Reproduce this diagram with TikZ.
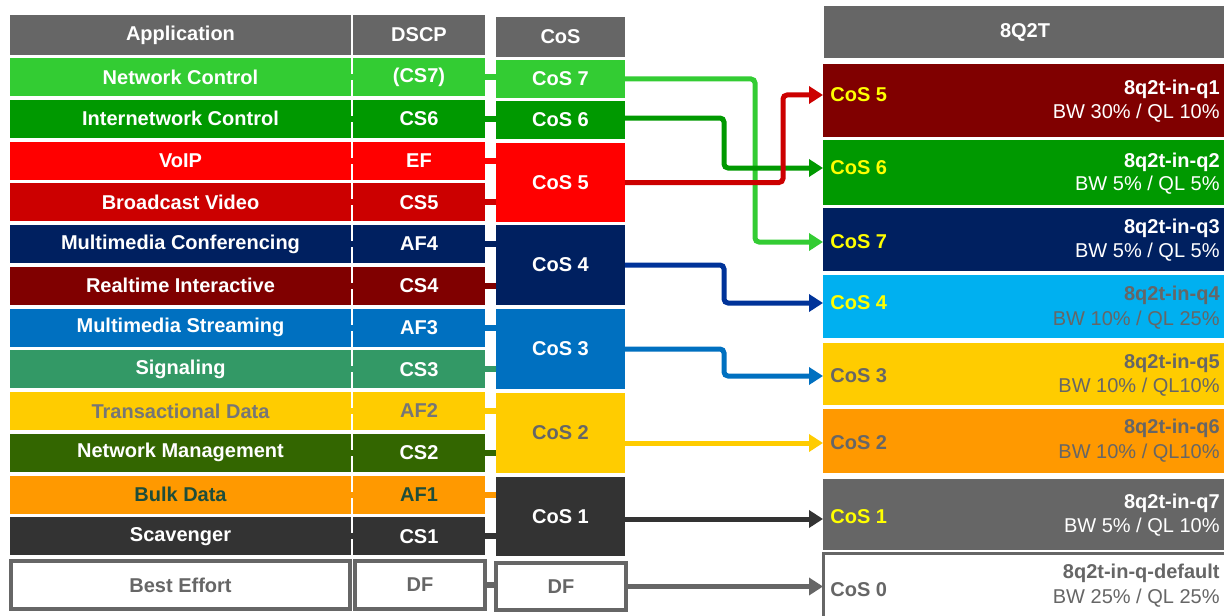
\documentclass[tikz,border=0pt]{standalone}
\usepackage{fontspec}
\setmainfont{Liberation Sans}
\usetikzlibrary{arrows.meta}
\definecolor{hdr}{HTML}{666666}
\definecolor{cNC}{HTML}{33CC33}
\definecolor{cIC}{HTML}{009900}
\definecolor{cVO}{HTML}{FF0000}
\definecolor{cBV}{HTML}{CC0000}
\definecolor{cMC}{HTML}{002060}
\definecolor{cRI}{HTML}{800000}
\definecolor{cMS}{HTML}{0070C0}
\definecolor{cSG}{HTML}{339966}
\definecolor{cTD}{HTML}{FFCC00}
\definecolor{cNM}{HTML}{336600}
\definecolor{cBD}{HTML}{FF9900}
\definecolor{cSC}{HTML}{333333}
\definecolor{cQfour}{HTML}{00B0F0}
\definecolor{tgray}{HTML}{666666}
\definecolor{tlight}{HTML}{767676}
\definecolor{tdark}{HTML}{1E4D3A}
\definecolor{ylab}{HTML}{FFFF00}
\definecolor{aNavy}{HTML}{003399}
\definecolor{aRed}{HTML}{CC0000}
\tikzset{
  cell/.style={inner sep=0pt, outer sep=0pt, font=\fontsize{10}{12}\selectfont\bfseries, text=white, minimum height=19pt},
  appc/.style={cell, minimum width=170.5pt},
  dscpc/.style={cell, minimum width=66pt},
  cosc/.style={cell, minimum width=64.5pt},
  hdrc/.style={cell, fill=hdr, minimum height=20pt},
  dfbox/.style={cell, draw=hdr, line width=2pt, fill=white, text=tgray, minimum height=24pt},
  link/.style={line width=3pt},
  conn/.style={line width=2.5pt, rounded corners=2pt, -{Triangle[length=7pt,width=8.5pt]}},
  queue/.style={inner sep=0pt, outer sep=0pt, minimum width=201.5pt},
  qlab/.style={anchor=west, inner sep=0pt, font=\fontsize{10}{12}\selectfont\bfseries},
  qname/.style={anchor=east, inner sep=0pt, font=\fontsize{10}{12}\selectfont\bfseries},
  qbw/.style={anchor=east, inner sep=0pt, font=\fontsize{10}{12}\selectfont},
}
\begin{document}
\begin{tikzpicture}[x=0.5pt,y=-0.5pt]
\useasboundingbox (0,0) rectangle (1224,615);
\clip (0,0) rectangle (1224,615);
\fill[white] (0,0) rectangle (1224,615);

% headers
\node[hdrc, minimum width=170.5pt] (happ) at (180.5,35) {Application};
\node[hdrc, minimum width=66pt] (hdscp) at (419,35) {DSCP};
\node[hdrc, minimum width=64.5pt] (hcos) at (560.5,37) {CoS};
\node[hdrc, minimum width=201pt, minimum height=26pt] (hq) at (1025,32) {8Q2T};

% CoS column
\node[cosc, fill=cNC, minimum height=19pt] (c7) at (560.5,79) {CoS 7};
\node[cosc, fill=cIC, minimum height=19pt] (c6) at (560.5,120) {CoS 6};
\node[cosc, fill=cVO, minimum height=39.5pt] (c5) at (560.5,182.5) {CoS 5};
\node[cosc, fill=cMC, minimum height=40pt] (c4) at (560.5,265) {CoS 4};
\node[cosc, fill=cMS, minimum height=40pt] (c3) at (560.5,349) {CoS 3};
\node[cosc, fill=cTD, text=tgray, minimum height=40pt] (c2) at (560.5,433) {CoS 2};
\node[cosc, fill=cSC, minimum height=39.5pt] (c1) at (560.5,516.5) {CoS 1};

% application / DSCP rows
\foreach \i/\app/\ds/\col/\tc/\k in {
  1/Network Control/{(CS7)}/cNC/white/7,
  2/Internetwork Control/CS6/cIC/white/6,
  3/VoIP/EF/cVO/white/5,
  4/Broadcast Video/CS5/cBV/white/5,
  5/Multimedia Conferencing/AF4/cMC/white/4,
  6/Realtime Interactive/CS4/cRI/white/4,
  7/Multimedia Streaming/AF3/cMS/white/3,
  8/Signaling/CS3/cSG/white/3,
  9/Transactional Data/AF2/cTD/tlight/2,
  10/Network Management/CS2/cNM/white/2,
  11/Bulk Data/AF1/cBD/tdark/1,
  12/Scavenger/CS1/cSC/white/1}{
  \pgfmathsetmacro\yy{77+41.75*(\i-1)}
  \node[appc, fill=\col, text=\tc] (a\i) at (180.5,\yy) {\app};
  \node[dscpc, fill=\col, text=\tc] (d\i) at (419,\yy) {\ds};
  \draw[link, \col] (a\i.east) -- (d\i.west);
  \draw[link, \col] (d\i.east) -- (d\i.east -| c\k.west);
}

% best effort row
\node[dfbox, minimum width=169.5pt] (a13) at (180.5,585) {Best Effort};
\node[dfbox, minimum width=65pt] (d13) at (420,585) {DF};
\node[dfbox, minimum width=65pt, minimum height=23.5pt] (c0) at (561,586.5) {DF};
\draw[link, hdr] (d13.east) -- (d13.east -| c0.west);

% queues
\node[queue, fill=cRI, minimum height=36.5pt] (q1) at (1024.5,100.5) {};
\node[queue, fill=cIC, minimum height=32.5pt] (q2) at (1024.5,172.5) {};
\node[queue, fill=cMC, minimum height=31.5pt] (q3) at (1024.5,239.5) {};
\node[queue, fill=cQfour, minimum height=31.5pt] (q4) at (1024.5,306.5) {};
\node[queue, fill=cTD, minimum height=31pt] (q5) at (1024.5,374) {};
\node[queue, fill=cBD, minimum height=32pt] (q6) at (1024.5,441) {};
\node[queue, fill=hdr, minimum height=35.5pt] (q7) at (1024.5,514.5) {};
\node[queue, fill=white, draw=hdr, line width=1.5pt, minimum height=43.25pt] (q0) at (1024.5,596.75) {};

% queue labels
\node[qlab, text=ylab] (q1c) at (830,95) {CoS 5};
\node[qname, text=white] (q1n) at (1220,89) {8q2t-in-q1};
\node[qbw, text=white] (q1b) at (1220,113) {BW 30\% / QL 10\%};
\node[qlab, text=ylab] (q2c) at (830,168) {CoS 6};
\node[qname, text=white] (q2n) at (1220,162) {8q2t-in-q2};
\node[qbw, text=white] (q2b) at (1220,185) {BW 5\% / QL 5\%};
\node[qlab, text=ylab] (q3c) at (830,242) {CoS 7};
\node[qname, text=white] (q3n) at (1220,228) {8q2t-in-q3};
\node[qbw, text=white] (q3b) at (1220,252) {BW 5\% / QL 5\%};
\node[qlab, text=ylab] (q4c) at (830,303) {CoS 4};
\node[qname, text=tgray] (q4n) at (1220,295) {8q2t-in-q4};
\node[qbw, text=tgray] (q4b) at (1220,320) {BW 10\% / QL 25\%};
\node[qlab, text=tgray] (q5c) at (830,376) {CoS 3};
\node[qname, text=tgray] (q5n) at (1220,363) {8q2t-in-q5};
\node[qbw, text=tgray] (q5b) at (1220,387) {BW 10\% / QL10\%};
\node[qlab, text=tgray] (q6c) at (830,443) {CoS 2};
\node[qname, text=tgray] (q6n) at (1220,428) {8q2t-in-q6};
\node[qbw, text=tgray] (q6b) at (1220,453) {BW 10\% / QL10\%};
\node[qlab, text=ylab] (q7c) at (830,517) {CoS 1};
\node[qname, text=white] (q7n) at (1220,503) {8q2t-in-q7};
\node[qbw, text=white] (q7b) at (1220,527) {BW 5\% / QL 10\%};
\node[qlab, text=tgray] (q0c) at (830,590) {CoS 0};
\node[qname, text=tgray] (q0n) at (1220,573) {8q2t-in-q-default};
\node[qbw, text=tgray] (q0b) at (1220,598) {BW 25\% / QL 25\%};

% connectors CoS -> queues
\draw[conn, cNC] (c7.east) -- ++(130,0) |- ([yshift=-1.25pt]q3.west);
\draw[conn, cIC] ([yshift=1pt]c6.east) -- ++(99,0) |- ([yshift=2.25pt]q2.west);
\draw[conn, aRed] (c5.east) -- ++(158,0) |- ([yshift=2.75pt]q1.west);
\draw[conn, aNavy] (c4.east) -- ++(99,0) |- ([yshift=1.75pt]q4.west);
\draw[conn, cMS] (c3.east) -- ++(99,0) |- ([yshift=-1pt]q5.west);
\draw[conn, cTD] ([yshift=-5pt]c2.east) -- ([yshift=-5pt]c2.east -| q6.west);
\draw[conn, cSC] ([yshift=-1.25pt]c1.east) -- ([yshift=-1.25pt]c1.east -| q7.west);
\draw[conn, hdr] (c0.east) -- (c0.east -| q0.west);
\end{tikzpicture}
\end{document}
